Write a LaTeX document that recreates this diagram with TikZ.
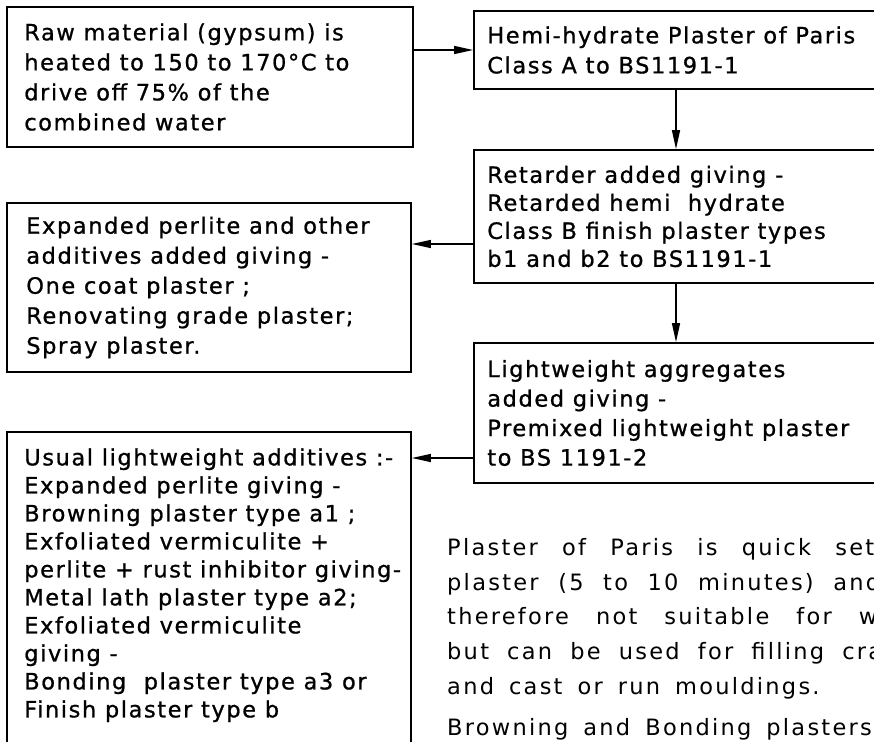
\documentclass[tikz,border=0pt]{standalone}
\usepackage{fontspec}
\setmainfont{DejaVu Sans}[LetterSpace=7.0, FakeBold=0.9]
\newfontfamily\parafont{DejaVu Sans}[LetterSpace=10.0, WordSpace=1.6]
\usetikzlibrary{arrows.meta}
\tikzset{
  box/.style={draw, line width=1.8pt, inner sep=0pt, minimum width=404pt},
  txt/.style={inner sep=0pt, align=left, anchor=west, font=\fontsize{22.5}{30}\selectfont},
  conn/.style={line width=1.4pt, -{Triangle[length=19pt,width=8pt]}},
  ptxt/.style={inner sep=0pt, font=\parafont\fontsize{22.5}{34.7}\selectfont},
}
\begin{document}
\begin{tikzpicture}[x=1pt,y=-1pt]
\useasboundingbox (0,0) rectangle (874,741);
% boxes
\node[box, minimum width=406pt, minimum height=140pt] (b1) at (210,77) {};
\node[box, minimum height=78pt]  (b2) at (676,50) {};
\node[box, minimum height=133pt] (b3) at (676,216.5) {};
\node[box, minimum height=169pt] (b4) at (209,287.5) {};
\node[box, minimum height=140pt] (b5) at (676,413) {};
\node[box, minimum height=330pt] (b6) at (209,597) {};
% texts
\node[txt] (t1) at ([xshift=18pt]b1.west)
  {Raw material (gypsum) is\\heated to 150 to 170°C to\\drive off 75\% of the\\combined water};
\node[txt] (t2) at ([xshift=14pt]b2.west)
  {Hemi-hydrate Plaster of Paris\\Class A to BS1191-1};
\node[txt, font=\fontsize{22.5}{28}\selectfont] (t3) at ([xshift=14pt]b3.west)
  {Retarder added giving -\\Retarded hemi\ \ hydrate\\Class B finish plaster types\\b1 and b2 to BS1191-1};
\node[txt] (t4) at ([xshift=20pt]b4.west)
  {Expanded perlite and other\\additives added giving -\\One coat plaster ;\\Renovating grade plaster;\\Spray plaster.};
\node[txt, font=\fontsize{22.5}{29.5}\selectfont] (t5) at ([xshift=14pt]b5.west)
  {Lightweight aggregates\\added giving -\\Premixed lightweight plaster\\to BS 1191-2};
\node[txt, anchor=north west, font=\fontsize{22.5}{28}\selectfont] (t6) at ([xshift=18pt,yshift=-17pt]b6.north west)
  {Usual lightweight additives :-\\Expanded perlite giving -\\Browning plaster type a1 ;\\Exfoliated vermiculite +\\perlite + rust inhibitor giving-\\Metal lath plaster type a2;\\Exfoliated vermiculite\\giving -\\Bonding\ \ plaster type a3 or\\Finish plaster type b};
% free text
\node[ptxt, align=left, anchor=north west] (para) at (447,538)
  {\makebox[427pt][s]{Plaster of Paris is quick set}\\
   \makebox[433pt][s]{plaster (5 to 10 minutes) and}\\
   \makebox[430pt][s]{therefore not suitable for w}\\
   \makebox[435pt][s]{but can be used for filling cra}\\
   and cast or run mouldings.};
\node[ptxt, anchor=base west] (para2) at (447,735)
  {Browning and Bonding plasters};
% connectors
\coordinate (a3) at ([yshift=-27.5pt]b3.west);
\coordinate (a5) at ([yshift=-45pt]b5.west);
\draw[conn] (b1.east |- b2.west) -- (b2.west);
\draw[conn] (b2.south) -- (b3.north);
\draw[conn] (b3.south) -- (b5.north);
\draw[conn] (a3) -- (a3 -| b4.east);
\draw[conn] (a5) -- (a5 -| b6.east);
\end{tikzpicture}
\end{document}
